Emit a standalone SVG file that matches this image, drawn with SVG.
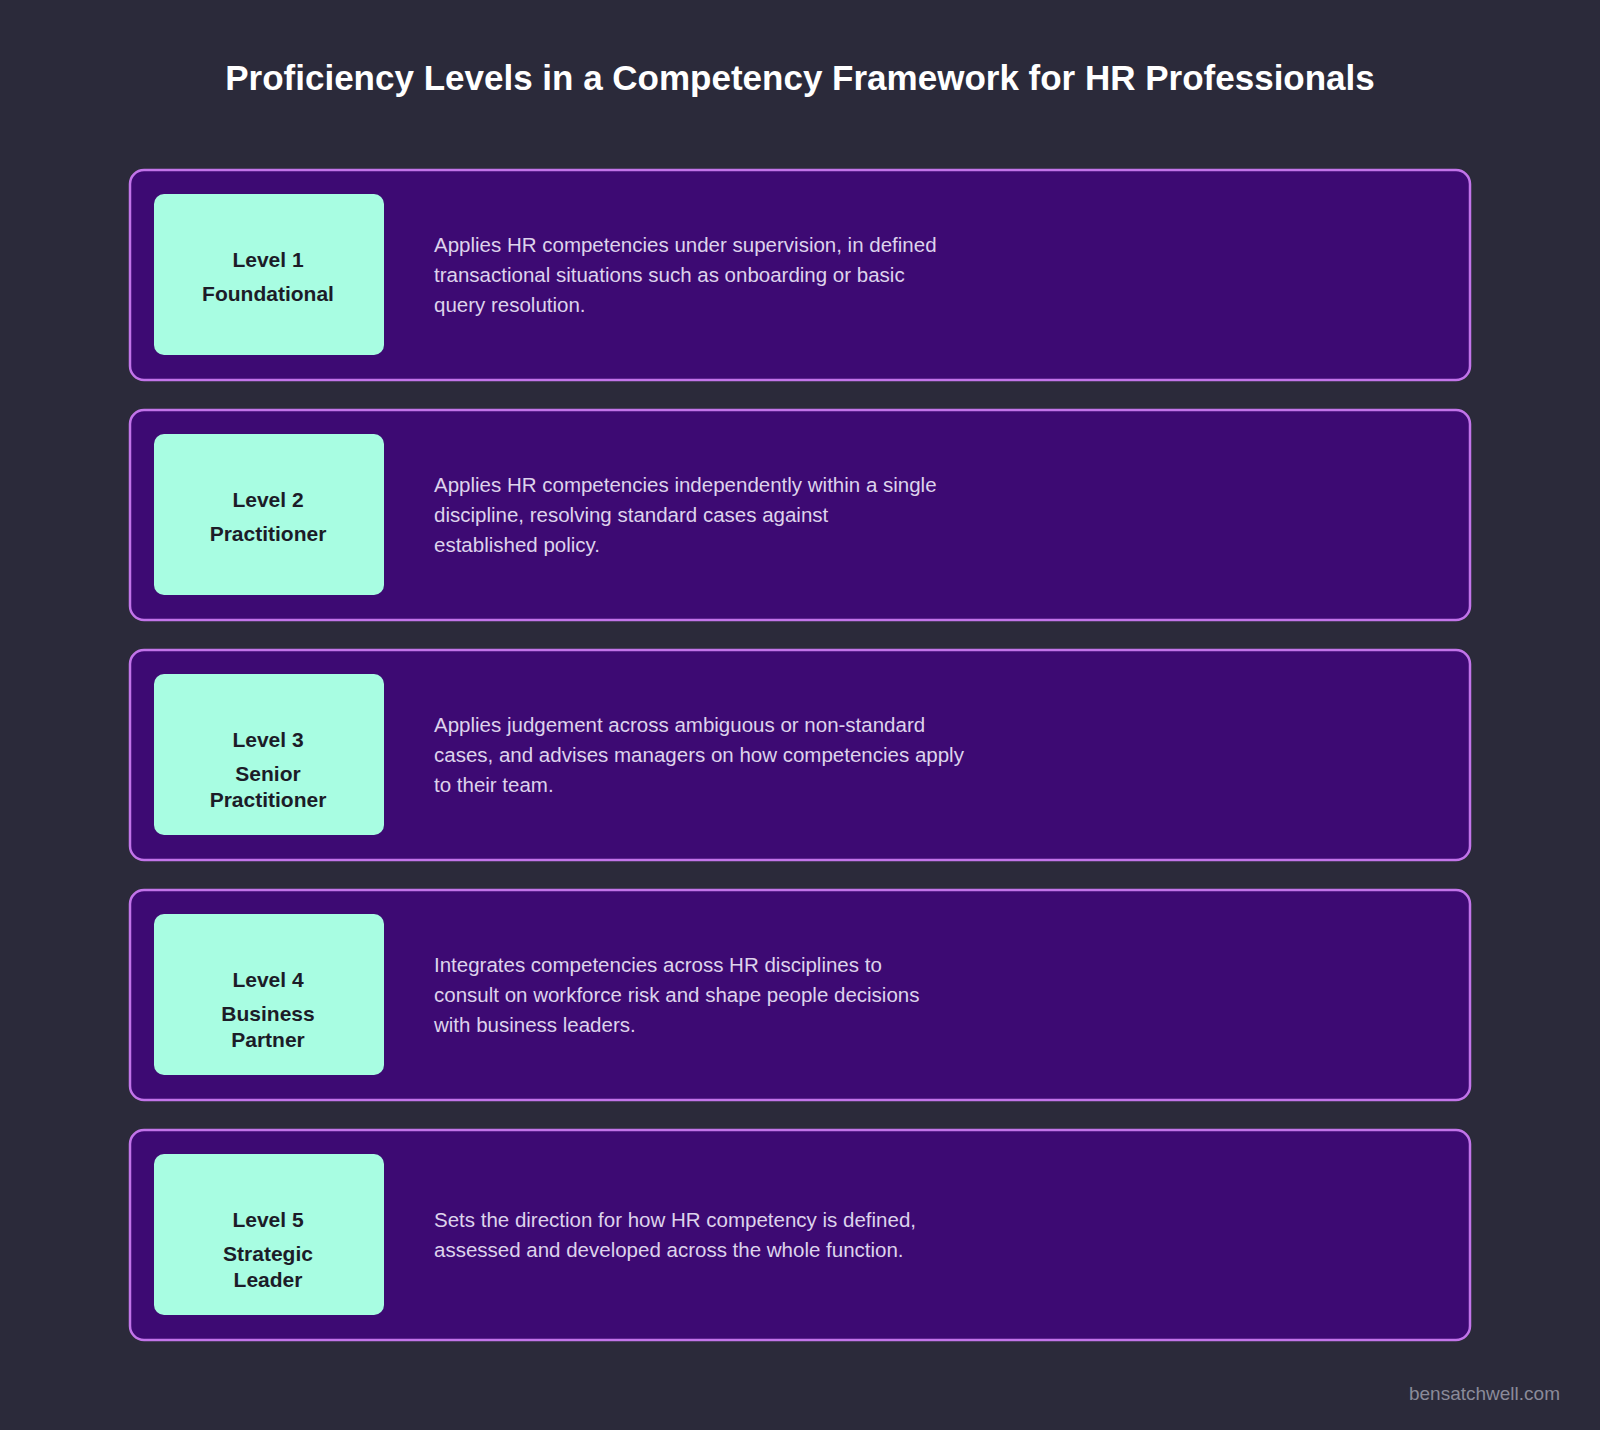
<svg xmlns="http://www.w3.org/2000/svg" width="1600" height="1430" viewBox="0 0 1600 1430">
<style>
.row{fill:#3d0a73;stroke:#c274ea;stroke-width:2.5}
.lab{fill:#a8fde2}
.lt{font-family:"Liberation Sans",Arial,sans-serif;font-weight:bold;font-size:21px;fill:#1c1c28;text-anchor:middle}
.dt{font-family:"Liberation Sans",Arial,sans-serif;font-size:20.5px;fill:#ddd3ec}
</style>
<rect width="1600" height="1430" fill="#2b2a3a"/>
<text x="800" y="90" text-anchor="middle" font-family="Liberation Sans,Arial,sans-serif" font-weight="bold" font-size="35px" fill="#ffffff">Proficiency Levels in a Competency Framework for HR Professionals</text>
<g id="level1" transform="translate(0,170)">
<rect class="row" x="130" y="0" width="1340" height="210" rx="14"/>
<rect class="lab" x="154" y="24" width="230" height="161" rx="10"/>
<text class="lt" x="268" y="97">Level 1</text>
<text class="lt" x="268" y="131">Foundational</text>
<text class="dt" x="434" y="82">Applies HR competencies under supervision, in defined</text>
<text class="dt" x="434" y="112">transactional situations such as onboarding or basic</text>
<text class="dt" x="434" y="142">query resolution.</text>
</g>
<g id="level2" transform="translate(0,410)">
<rect class="row" x="130" y="0" width="1340" height="210" rx="14"/>
<rect class="lab" x="154" y="24" width="230" height="161" rx="10"/>
<text class="lt" x="268" y="97">Level 2</text>
<text class="lt" x="268" y="131">Practitioner</text>
<text class="dt" x="434" y="82">Applies HR competencies independently within a single</text>
<text class="dt" x="434" y="112">discipline, resolving standard cases against</text>
<text class="dt" x="434" y="142">established policy.</text>
</g>
<g id="level3" transform="translate(0,650)">
<rect class="row" x="130" y="0" width="1340" height="210" rx="14"/>
<rect class="lab" x="154" y="24" width="230" height="161" rx="10"/>
<text class="lt" x="268" y="97">Level 3</text>
<text class="lt" x="268" y="131">Senior</text>
<text class="lt" x="268" y="157">Practitioner</text>
<text class="dt" x="434" y="82">Applies judgement across ambiguous or non-standard</text>
<text class="dt" x="434" y="112">cases, and advises managers on how competencies apply</text>
<text class="dt" x="434" y="142">to their team.</text>
</g>
<g id="level4" transform="translate(0,890)">
<rect class="row" x="130" y="0" width="1340" height="210" rx="14"/>
<rect class="lab" x="154" y="24" width="230" height="161" rx="10"/>
<text class="lt" x="268" y="97">Level 4</text>
<text class="lt" x="268" y="131">Business</text>
<text class="lt" x="268" y="157">Partner</text>
<text class="dt" x="434" y="82">Integrates competencies across HR disciplines to</text>
<text class="dt" x="434" y="112">consult on workforce risk and shape people decisions</text>
<text class="dt" x="434" y="142">with business leaders.</text>
</g>
<g id="level5" transform="translate(0,1130)">
<rect class="row" x="130" y="0" width="1340" height="210" rx="14"/>
<rect class="lab" x="154" y="24" width="230" height="161" rx="10"/>
<text class="lt" x="268" y="97">Level 5</text>
<text class="lt" x="268" y="131">Strategic</text>
<text class="lt" x="268" y="157">Leader</text>
<text class="dt" x="434" y="97">Sets the direction for how HR competency is defined,</text>
<text class="dt" x="434" y="127">assessed and developed across the whole function.</text>
</g>
<g id="connectors"></g>
<text x="1560" y="1400" text-anchor="end" font-family="Liberation Sans,Arial,sans-serif" font-size="19px" fill="#8a8a99">bensatchwell.com</text>
</svg>
